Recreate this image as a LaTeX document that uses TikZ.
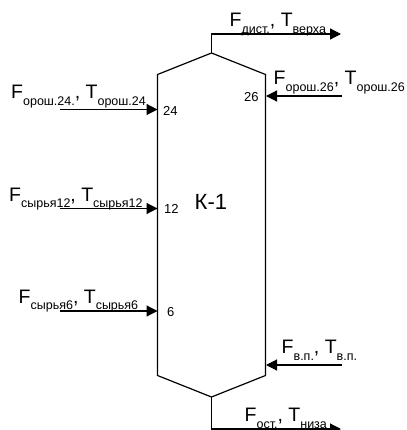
\documentclass[tikz,border=0pt]{standalone}
\usepackage{fontspec}
\setmainfont{Liberation Sans}
\usetikzlibrary{arrows.meta}
\newcommand{\flowlab}[4]{\fontsize{19.5}{21}\selectfont #1\raisebox{-6.5pt}{\fontsize{12.5}{14}\selectfont #2},\hspace{5.4pt}#3\raisebox{-6.5pt}{\fontsize{12.5}{14}\selectfont #4}}
\tikzset{
  line/.style={draw=black,line width=1.2pt},
  flow/.style={line,-{Triangle[length=11pt,width=11pt]}},
  lab/.style={inner sep=0pt,anchor=base west,text=black},
  tray/.style={inner sep=0pt,anchor=base west,text=black,font=\fontsize{13}{15}\selectfont},
}
\begin{document}
\begin{tikzpicture}[x=1pt,y=-1pt]
\useasboundingbox (0,0) rectangle (406,430);
\fill[white] (0,0) rectangle (406,430);
\coordinate (tl) at (157.5,74.5);
\coordinate (ta) at (211.5,53);
\coordinate (tr) at (265.5,74.5);
\coordinate (br) at (265.5,375.5);
\coordinate (ba) at (211.5,397);
\coordinate (bl) at (157.5,375.5);
\draw[line,line join=miter] (tl) -- (ta) -- (tr) -- (br) -- (ba) -- (bl) -- cycle;
\coordinate (s24) at (60,109.5);
\coordinate (e24) at (157.5,109.5);
\coordinate (s12) at (60,208.5);
\coordinate (e12) at (157.5,208.5);
\coordinate (s6) at (60,311);
\coordinate (e6) at (157.5,311);
\coordinate (s26) at (342,96);
\coordinate (e26) at (266,96);
\coordinate (svp) at (342,365);
\coordinate (evp) at (266,365);
\coordinate (dcorner) at (211.5,34);
\coordinate (dend) at (341,34);
\coordinate (ocorner) at (211.5,429);
\coordinate (oend) at (341,429);
\draw[flow] (s24) -- (e24);
\draw[flow] (s12) -- (e12);
\draw[flow] (s6) -- (e6);
\draw[flow] (s26) -- (e26);
\draw[flow] (svp) -- (evp);
\draw[flow] (ta) -- (dcorner) -- (dend);
\draw[flow] (ba) -- (ocorner) -- (oend);
\node[lab] (l24) at (11,99) {\flowlab{F}{орош.24.}{T}{орош.24}};
\node[lab] (l12) at (9,201) {\flowlab{F}{сырья12}{T}{сырья12}};
\node[lab] (l6) at (18.5,303) {\flowlab{F}{сырья6}{T}{сырья6}};
\node[lab] (l26) at (273.5,85) {\flowlab{F}{орош.26}{T}{орош.26}};
\node[lab] (ld) at (229.5,27) {\flowlab{F}{дист.}{T}{верха}};
\node[lab] (lv) at (281.5,353.5) {\flowlab{F}{в.п.}{T}{в.п.}};
\node[lab] (lo) at (244.5,421.5) {\flowlab{F}{ост.}{T}{низа}};
\node[tray] (t24) at (163,115.5) {24};
\node[tray] (t12) at (164,213) {12};
\node[tray] (t6) at (167,316.5) {6};
\node[tray] (t26) at (244,101.5) {26};
\node[inner sep=0pt,anchor=base west,font=\fontsize{22}{24}\selectfont] (k) at (194.5,209) {К-1};
\end{tikzpicture}
\end{document}
